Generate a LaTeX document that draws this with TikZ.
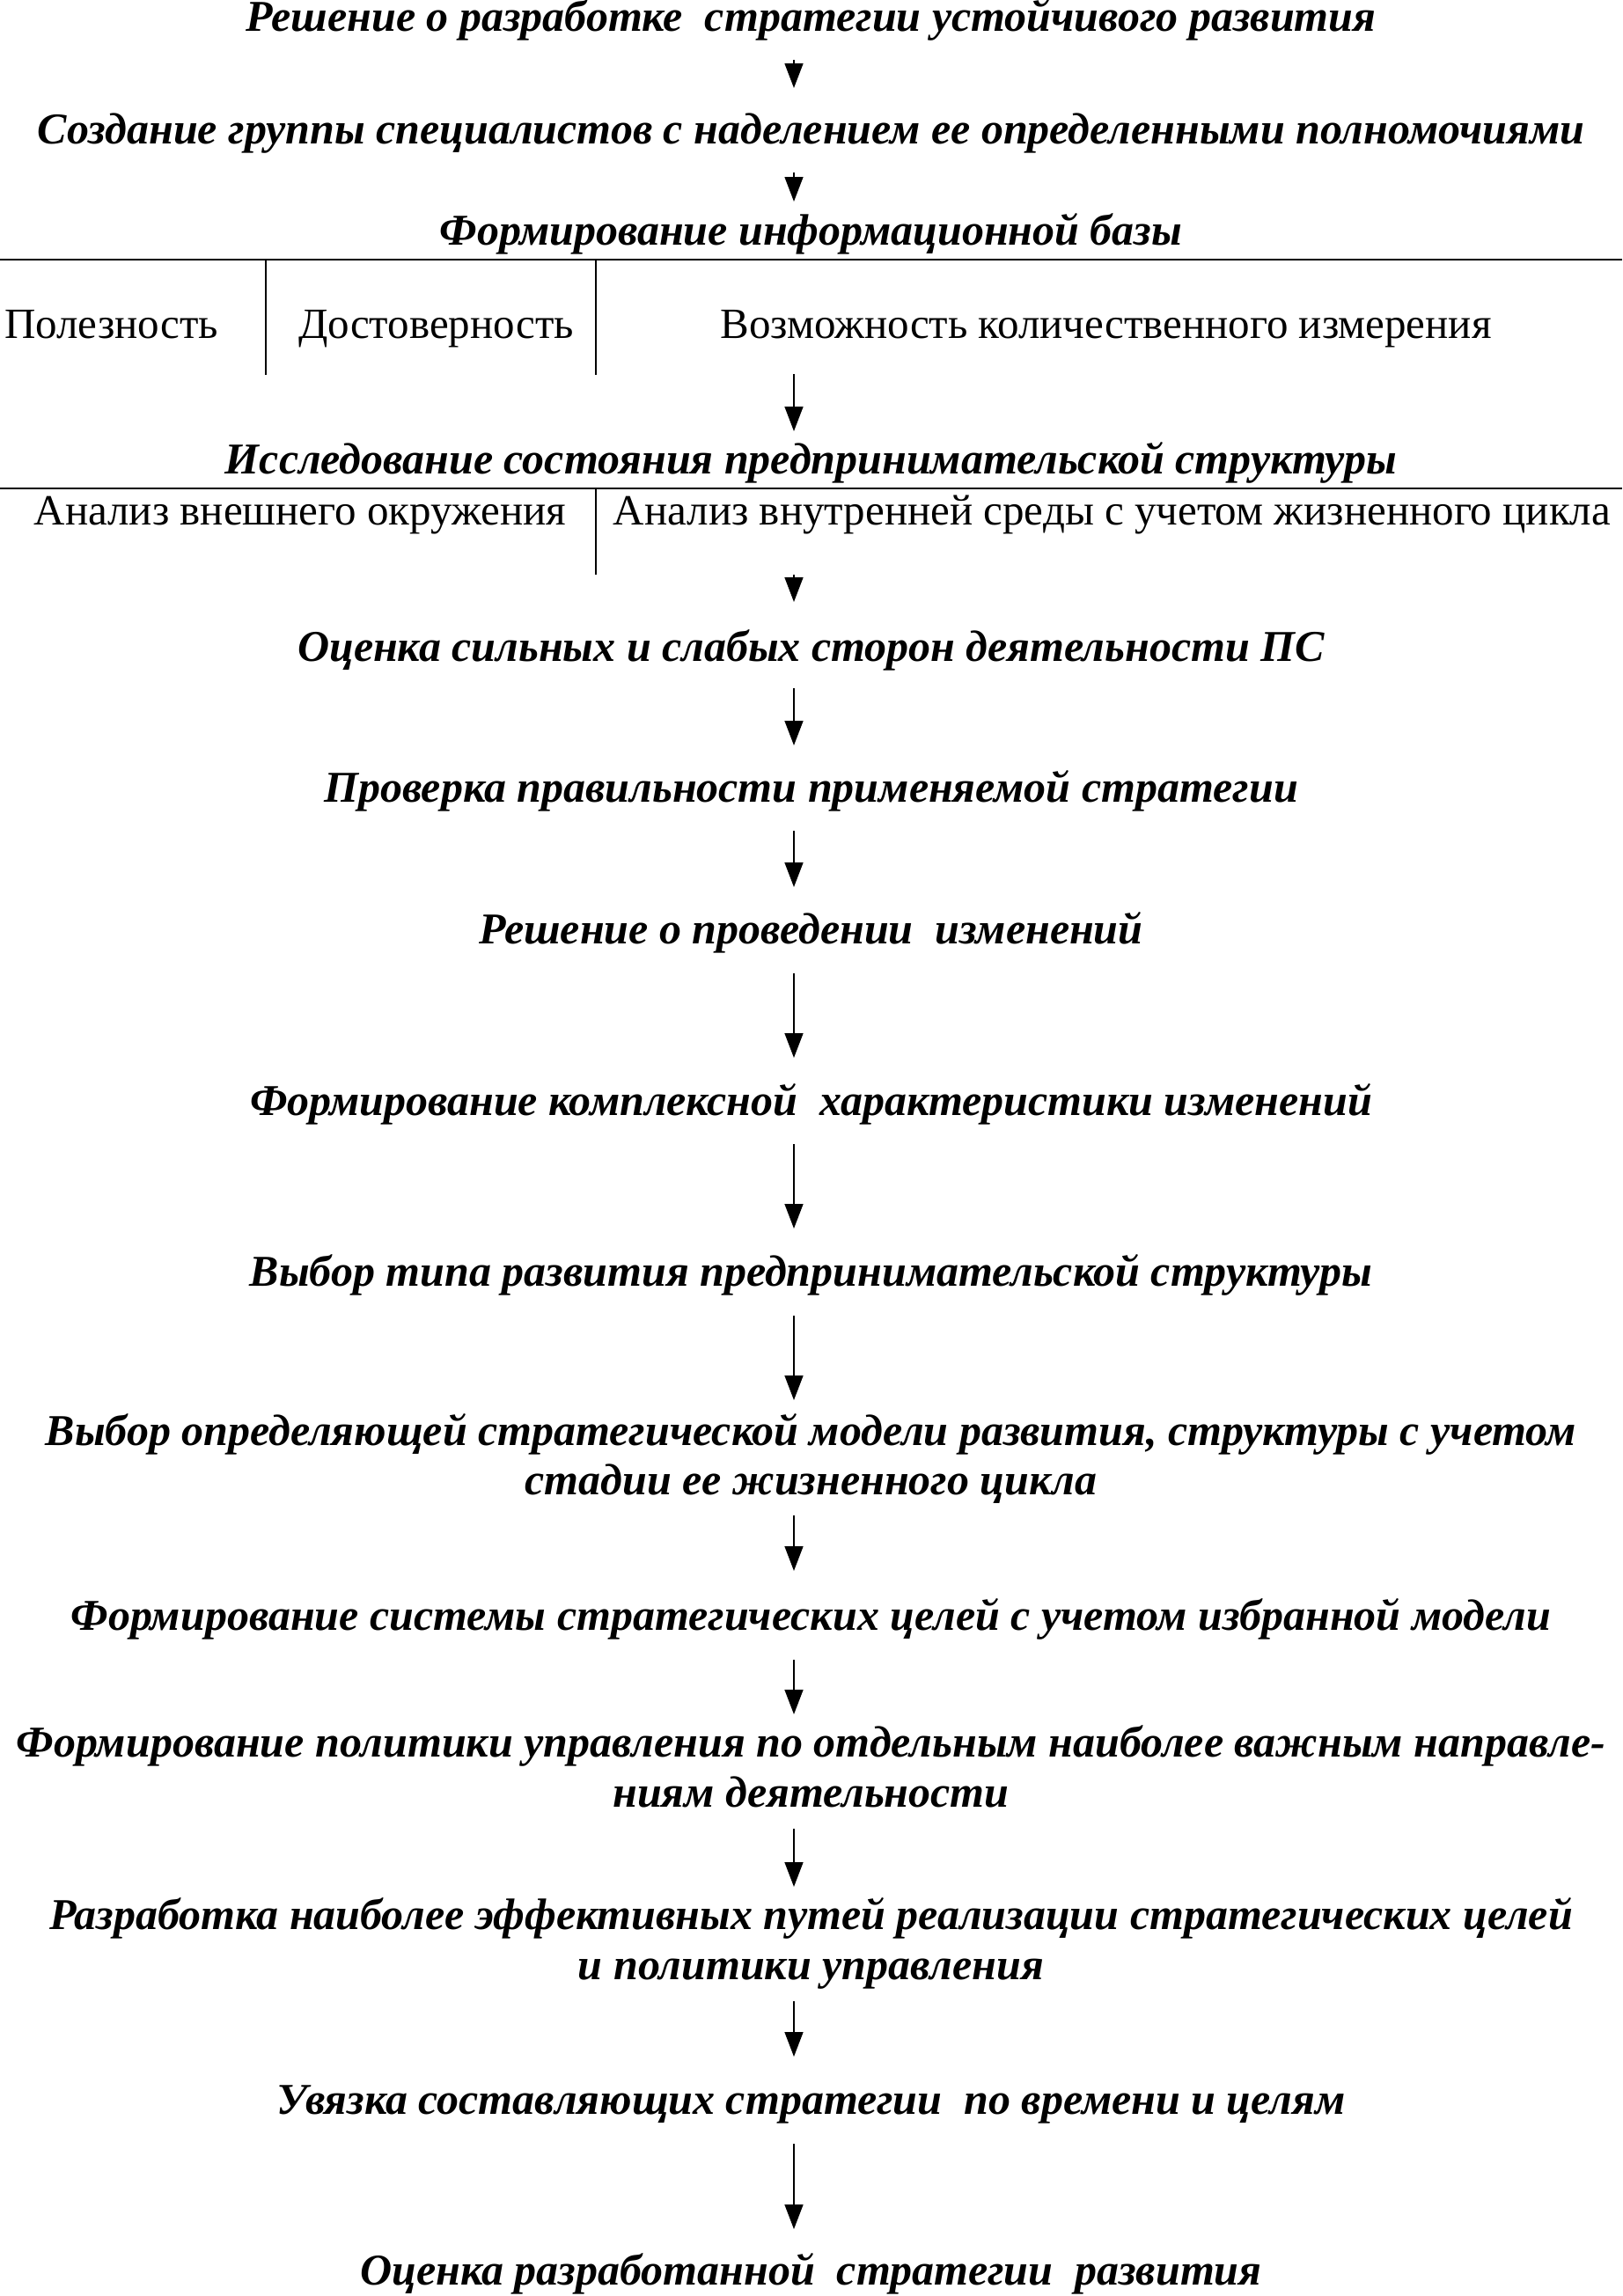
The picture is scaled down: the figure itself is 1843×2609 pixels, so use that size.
\documentclass[tikz,border=0pt]{standalone}
\usepackage{fontspec}
\setmainfont{Liberation Serif}
\usetikzlibrary{arrows.meta,calc}
\begin{document}
\begin{tikzpicture}[x=1bp,y=-1bp,
  every node/.style={inner sep=0pt,outer sep=0pt},
  head/.style={anchor=base,font=\fontsize{50bp}{58bp}\selectfont\bfseries\itshape},
  cell/.style={anchor=base,font=\fontsize{49bp}{58bp}\selectfont},
  hl/.style={line width=2.5bp},
  vl/.style={line width=2bp},
  arr/.style={line width=1.5bp,-{Triangle[length=28bp,width=21bp]}}]
\fill[white] (0,0) rectangle (1843,2609);
\useasboundingbox (0,0) rectangle (1843,2609);
\coordinate (ax) at (902,0);

\node[head] (n1) at (921.5,35) {Решение о разработке\ \ стратегии устойчивого развития};
\node[head] (n2) at (921.5,163) {Создание группы специалистов с наделением ее определенными полномочиями};
\node[head] (n3) at (921.5,278) {Формирование информационной базы};

\coordinate (h1l) at (0,295); \coordinate (h1r) at (1843,295);
\draw[hl] (h1l) -- (h1r);
\coordinate (v1t) at (302,295); \coordinate (v1b) at (302,426);
\coordinate (v2t) at (677,295); \coordinate (v2b) at (677,426);
\draw[vl] (v1t) -- (v1b);
\draw[vl] (v2t) -- (v2b);
\node[cell] (c1) at (126.5,384) {Полезность};
\node[cell] (c2) at (495.5,384) {Достоверность};
\node[cell] (c3) at (1256.5,384) {Возможность количественного измерения};

\node[head] (n4) at (921.5,538) {Исследование состояния предпринимательской структуры};
\coordinate (h2l) at (0,555); \coordinate (h2r) at (1843,555);
\draw[hl] (h2l) -- (h2r);
\coordinate (v3t) at (677,555); \coordinate (v3b) at (677,653);
\draw[vl] (v3t) -- (v3b);
\node[cell] (c4) at (341,596) {Анализ внешнего окружения};
\node[cell] (c5) at (1263.5,596) {Анализ внутренней среды с учетом жизненного цикла};

\node[head] (n5) at (921.5,751) {Оценка сильных и слабых сторон деятельности ПС};
\node[head] (n6) at (921.5,911) {Проверка правильности применяемой стратегии};
\node[head] (n7) at (921.5,1072) {Решение о проведении\ \ изменений};
\node[head] (n8) at (921.5,1267) {Формирование комплексной\ \ характеристики изменений};
\node[head] (n9) at (921.5,1461) {Выбор типа развития предпринимательской структуры};
\node[head] (n10a) at (921.5,1642) {Выбор определяющей стратегической модели развития, структуры с учетом};
\node[head] (n10b) at (921.5,1698) {стадии ее жизненного цикла};
\node[head] (n11) at (921.5,1852) {Формирование системы стратегических целей с учетом избранной модели};
\node[head] (n12a) at (921.5,1996) {Формирование политики управления по отдельным наиболее важным направле-};
\node[head] (n12b) at (921.5,2053) {ниям деятельности};
\node[head] (n13a) at (921.5,2192) {Разработка наиболее эффективных путей реализации стратегических целей};
\node[head] (n13b) at (921.5,2249) {и политики управления};
\node[head] (n14) at (921.5,2402) {Увязка составляющих стратегии\ \ по времени и целям};
\node[head] (n15) at (921.5,2596) {Оценка разработанной\ \ стратегии\ \ развития};

\coordinate (t1) at (902,425);
\coordinate (t2) at (902,653);

\draw[arr] ($(n1.base -| ax)+(0,33)$) -- ($(n2.base -| ax)+(0,-63)$);
\draw[arr] ($(n2.base -| ax)+(0,33)$) -- ($(n3.base -| ax)+(0,-49)$);
\draw[arr] (t1) -- ($(n4.base -| ax)+(0,-48)$);
\draw[arr] (t2) -- ($(n5.base -| ax)+(0,-67)$);
\draw[arr] ($(n5.base -| ax)+(0,31)$) -- ($(n6.base -| ax)+(0,-64)$);
\draw[arr] ($(n6.base -| ax)+(0,33)$) -- ($(n7.base -| ax)+(0,-64)$);
\draw[arr] ($(n7.base -| ax)+(0,34)$) -- ($(n8.base -| ax)+(0,-65)$);
\draw[arr] ($(n8.base -| ax)+(0,33)$) -- ($(n9.base -| ax)+(0,-65)$);
\draw[arr] ($(n9.base -| ax)+(0,34)$) -- ($(n10a.base -| ax)+(0,-51)$);
\draw[arr] ($(n10b.base -| ax)+(0,24)$) -- ($(n11.base -| ax)+(0,-67)$);
\draw[arr] ($(n11.base -| ax)+(0,34)$) -- ($(n12a.base -| ax)+(0,-48)$);
\draw[arr] ($(n12b.base -| ax)+(0,25)$) -- ($(n13a.base -| ax)+(0,-48)$);
\draw[arr] ($(n13b.base -| ax)+(0,25)$) -- ($(n14.base -| ax)+(0,-65)$);
\draw[arr] ($(n14.base -| ax)+(0,34)$) -- ($(n15.base -| ax)+(0,-63)$);
\end{tikzpicture}
\end{document}
